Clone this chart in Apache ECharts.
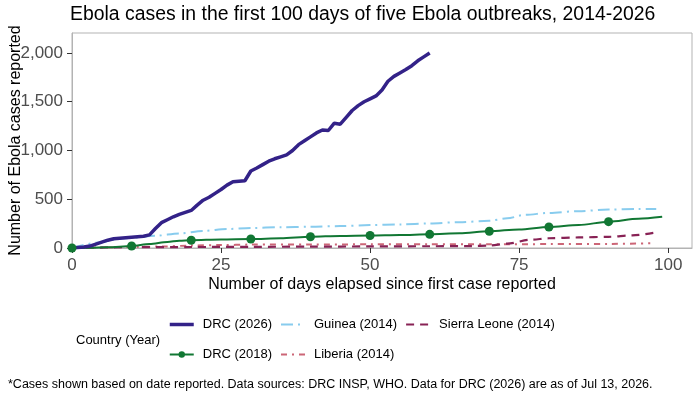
<!DOCTYPE html>
<html>
<head>
<meta charset="utf-8">
<script src="https://cdn.jsdelivr.net/npm/echarts@6/dist/echarts.min.js"></script>
<style>
  html, body { margin: 0; padding: 0; background: #fff; }
  #chart { width: 700px; height: 400px; }
</style>
</head>
<body>
<div id="chart"></div>
<script>
// DRC (2026), one point per day, days 0-60
const drc2026Cases = [
  0, 5, 10, 20, 40, 60, 80, 95, 100, 105,
  110, 115, 120, 135, 200, 260, 290, 320, 345, 365,
  385, 440, 490, 520, 560, 600, 645, 680, 685, 690,
  790, 820, 855, 890, 915, 935, 955, 1000, 1060, 1100,
  1140, 1180, 1210, 1205, 1280, 1270, 1340, 1410, 1460, 1500,
  1530, 1560, 1620, 1710, 1760, 1795, 1830, 1870, 1920, 1960,
  2000
];

const drc2018Days = [0, 3, 6, 10, 13, 16, 18, 20, 25, 30, 35, 40, 45, 50, 55, 60, 65, 70, 75, 80, 85, 90, 95, 99];
const drc2018Cases = [0, 2, 8, 20, 40, 62, 75, 80, 88, 92, 100, 115, 124, 128, 133, 140, 150, 172, 190, 215, 235, 270, 300, 320];

const guineaDays = [0, 5, 8, 10, 14, 18, 22, 26, 30, 35, 40, 45, 50, 55, 60, 65, 70, 73, 76, 80, 85, 90, 95, 98];
const guineaCases = [0, 60, 95, 105, 125, 150, 175, 195, 205, 213, 218, 225, 235, 242, 252, 265, 280, 305, 340, 360, 378, 395, 400, 400];

const liberiaDays = [0, 5, 10, 15, 20, 25, 30, 40, 50, 60, 70, 80, 90, 97];
const liberiaCases = [0, 5, 10, 15, 25, 30, 35, 35, 38, 38, 38, 40, 42, 48];

const sierraDays = [0, 10, 20, 30, 40, 50, 60, 67, 70, 73, 77, 80, 85, 90, 94, 98];
const sierraCases = [0, 8, 10, 12, 14, 16, 18, 20, 25, 45, 85, 100, 108, 115, 130, 160];

const xTicks = [0, 25, 50, 75, 100];
const yTicks = [0, 500, 1000, 1500, 2000];

function zip(days, cases) {
  return days.map((d, i) => [d, cases[i]]);
}

const chart = echarts.init(document.getElementById('chart'));

const font = '"Liberation Sans", Arial, sans-serif';
const axisText = { color: '#4d4d4d', fontSize: 17, fontFamily: font };
const nameText = { color: '#000', fontSize: 16, fontFamily: font };
const legendText = { color: '#000', fontSize: 13, fontFamily: font, padding: [0, 0, 0, 4] };

const styles = {
  'DRC (2026)': { color: '#332288', width: 3.5, type: 'solid' },
  'DRC (2018)': { color: '#117733', width: 2, type: 'solid' },
  'Guinea (2014)': { color: '#88CCEE', width: 2, type: [12, 5, 2, 5] },
  'Liberia (2014)': { color: '#CC6677', width: 2, type: [6, 5, 2, 5] },
  'Sierra Leone (2014)': { color: '#882255', width: 2.2, type: [8, 6] }
};

function legendItem(name) {
  const s = styles[name];
  return {
    name: name,
    lineStyle: { color: s.color, width: s.width, type: s.type },
    itemStyle: name === 'DRC (2018)' ? { color: s.color } : { opacity: 0 }
  };
}

const legendBase = {
  orient: 'vertical',
  top: 318,
  padding: 0,
  itemWidth: 24,
  itemHeight: 8,
  itemGap: 17,
  selectedMode: false,
  textStyle: legendText
};

function lineSeries(name, data, smooth) {
  const s = styles[name];
  return {
    name: name,
    type: 'line',
    data: data,
    smooth: smooth ? 0.3 : false,
    smoothMonotone: 'x',
    symbol: 'none',
    lineStyle: { color: s.color, width: s.width, type: s.type },
    itemStyle: { color: s.color }
  };
}

const drc2018Series = lineSeries('DRC (2018)', drc2018Days.map((d, i) => ({
  value: [d, drc2018Cases[i]],
  symbol: d % 10 === 0 ? 'circle' : 'none'
})), true);
drc2018Series.symbol = 'circle';
drc2018Series.symbolSize = 9;
drc2018Series.showAllSymbol = true;

const option = {
  animation: false,
  title: {
    text: 'Ebola cases in the first 100 days of five Ebola outbreaks, 2014-2026',
    left: 70,
    top: 5,
    padding: 0,
    textStyle: { color: '#000', fontSize: 19.4, fontWeight: 'normal', fontFamily: font }
  },
  grid: {
    left: 72,
    right: 8,
    top: 33,
    bottom: 152,
    show: true,
    borderColor: '#b3b3b3',
    borderWidth: 1,
    containLabel: false,
    outerBoundsMode: 'none'
  },
  legend: [
    Object.assign({ left: 168, data: ['DRC (2026)', 'DRC (2018)'].map(legendItem) }, legendBase),
    Object.assign({ left: 280, data: ['Guinea (2014)', 'Liberia (2014)'].map(legendItem) }, legendBase),
    Object.assign({ left: 405, data: ['Sierra Leone (2014)'].map(legendItem) }, legendBase)
  ],
  graphic: [
    {
      type: 'text',
      left: 76,
      top: 334,
      style: { text: 'Country (Year)', fill: '#000', font: '13px "Liberation Sans", Arial, sans-serif' }
    },
    {
      type: 'text',
      left: 8,
      top: 378,
      style: {
        text: '*Cases shown based on date reported. Data sources: DRC INSP, WHO. Data for DRC (2026) are as of Jul 13, 2026.',
        fill: '#000',
        font: '12.5px "Liberation Sans", Arial, sans-serif'
      }
    }
  ],
  xAxis: {
    type: 'value',
    min: 0,
    max: 104,
    name: 'Number of days elapsed since first case reported',
    nameLocation: 'middle',
    nameGap: 29,
    nameMoveOverlap: false,
    nameTextStyle: nameText,
    splitLine: { show: false },
    axisLine: { show: true, lineStyle: { color: '#b3b3b3' } },
    axisTick: { show: true, length: 5, customValues: xTicks, lineStyle: { color: '#333' } },
    axisLabel: Object.assign({ customValues: xTicks, margin: 9 }, axisText)
  },
  yAxis: {
    type: 'value',
    min: 0,
    max: 2205,
    name: 'Number of Ebola cases reported',
    nameLocation: 'middle',
    nameGap: 48,
    nameMoveOverlap: false,
    nameTextStyle: nameText,
    splitLine: { show: false },
    axisLine: { show: true, lineStyle: { color: '#b3b3b3' } },
    axisTick: { show: true, length: 5, customValues: yTicks, lineStyle: { color: '#333' } },
    axisLabel: Object.assign({
      customValues: yTicks,
      margin: 9,
      formatter: v => v.toLocaleString('en-US')
    }, axisText)
  },
  series: [
    lineSeries('Liberia (2014)', zip(liberiaDays, liberiaCases), true),
    lineSeries('Sierra Leone (2014)', zip(sierraDays, sierraCases), true),
    lineSeries('Guinea (2014)', zip(guineaDays, guineaCases), true),
    drc2018Series,
    lineSeries('DRC (2026)', drc2026Cases.map((c, d) => [d, c]), false)
  ]
};

chart.setOption(option);
</script>
</body>
</html>
